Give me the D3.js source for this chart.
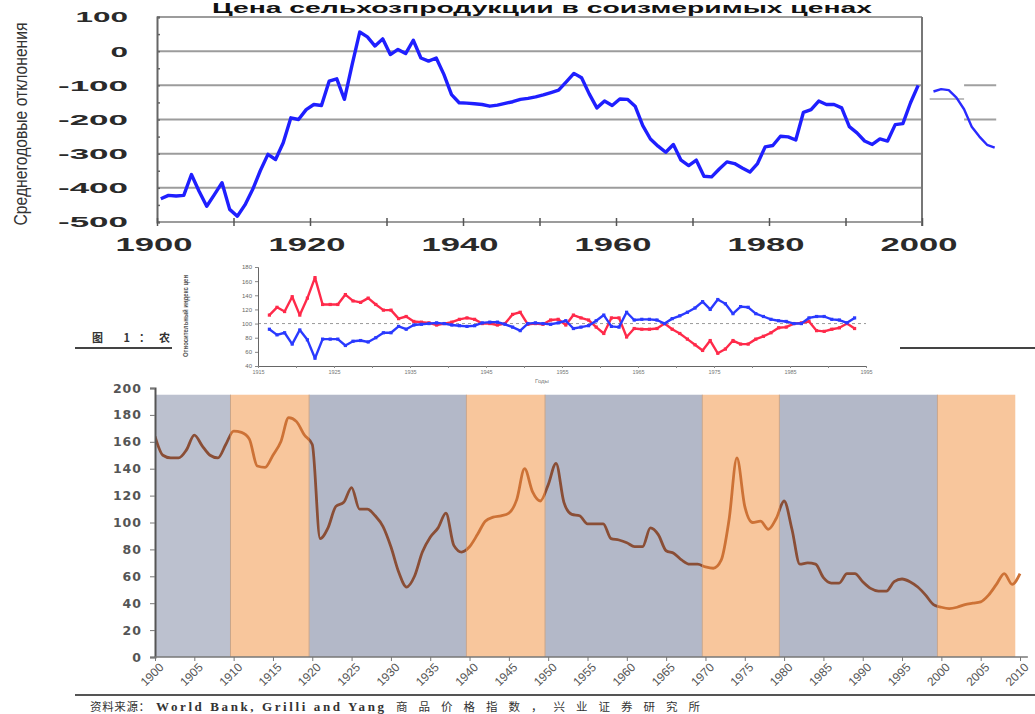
<!DOCTYPE html>
<html><head><meta charset="utf-8">
<script src="https://cdn.jsdelivr.net/npm/d3@7/dist/d3.min.js"></script>
<style>body{margin:0;background:#fff;}svg{display:block;}</style>
</head><body>
<svg id="c" width="1035" height="714"></svg>
<script>
// ===== Chart 1 (top): agricultural prices, deviation =====
const topTitle = "Цена сельхозпродукции в соизмеримых ценах";
const topYLabel = "Среднегодовые отклонения";
const topStart = 1900;
const topValues = [-432,-422,-424,-422,-361,-410,-454,-420,-385,-463,
  -483,-450,-405,-350,-302,-317,-268,-195,-200,-171,
  -156,-159,-88,-81,-141,-40,56,42,15,36,
  -10,5,-7,32,-20,-29,-20,-68,-127,-151,
  -152,-154,-156,-161,-158,-153,-148,-141,-138,-134,
  -128,-121,-114,-90,-65,-78,-125,-166,-146,-159,
  -140,-141,-161,-218,-257,-278,-296,-273,-319,-335,
  -319,-366,-368,-345,-324,-329,-342,-354,-329,-280,
  -276,-249,-251,-260,-179,-171,-146,-156,-156,-166,
  -221,-239,-263,-273,-257,-263,-215,-212,-151,-100];
const contStart = 2001;
const contValues = [-118,-111,-114,-136,-170,-221,-250,-274,-282];
const topYTicks = [100,0,-100,-200,-300,-400,-500];
const topXTicks = [1900,1920,1940,1960,1980,2000];

// ===== Chart 2 (middle): relative price indices =====
const midStart = 1917;
const midRed = [112,123,117,138,112,136,165,127,127,127,
  141,132,130,136,127,119,119,107,110,103,
  102,101,98,100,102,106,108,106,100,100,
  98,100,113,116,99,100,99,105,106,98,
  112,108,105,95,86,108,108,81,93,92,
  92,93,100,92,86,78,70,62,76,58,
  64,76,71,71,78,82,87,94,95,100,
  101,103,90,89,92,94,100,93];
const midBlue = [92,84,87,71,91,77,51,78,78,78,
  69,75,76,74,80,87,87,96,92,98,
  99,100,101,100,98,97,96,97,101,102,
  102,99,95,90,100,101,100,99,101,104,
  93,95,97,104,112,96,95,116,105,106,
  106,105,100,107,111,116,122,131,120,134,
  128,114,124,123,114,110,106,104,103,100,
  100,108,110,110,106,105,101,108];
const midYTicks = [180,160,140,120,100,80,60,40];
const midXTicks = [1915,1925,1935,1945,1955,1965,1975,1985,1995];
const midYLabel = "Относительный индекс цен";
const midXLabel = "Годы";

// ===== Chart 3 (bottom): commodity price index =====
const botStart = 1900;
const botValues = [164,150,148,148,154,165,157,150,148,158,
  168,167,162,142,141,150,160,178,175,165,
  158,88,96,112,115,126,110,110,105,97,
  82,63,52,60,78,89,96,107,83,78,
  82,91,101,104,105,107,117,140,123,116,
  128,144,115,106,105,99,99,99,88,87,
  85,82,82,96,91,79,77,72,69,69,
  67,66,72,102,148,112,100,101,95,103,
  116,95,69,70,69,59,55,55,62,62,
  56,51,49,49,56,58,56,52,46,39,
  37,36,37,39,40,41,46,54,62,54,62];
const botBands = [
  {from:1900, to:1909.6, kind:"down"},
  {from:1909.6, to:1919.6, kind:"up"},
  {from:1919.6, to:1939.6, kind:"down"},
  {from:1939.6, to:1949.6, kind:"up"},
  {from:1949.6, to:1969.6, kind:"down"},
  {from:1969.6, to:1979.4, kind:"up"},
  {from:1979.4, to:1999.5, kind:"down"},
  {from:1999.5, to:2009.4, kind:"up"}];
const botYTicks = [0,20,40,60,80,100,120,140,160,180,200];
const botXTicks = [1900,1905,1910,1915,1920,1925,1930,1935,1940,1945,1950,1955,1960,1965,1970,1975,1980,1985,1990,1995,2000,2005,2010];
const figLabel = "图 1：农";
const sourceCn1 = "资料来源：";
const sourceEn = "World Bank, Grilli and Yang";
const sourceCn2 = "商品价格指数，兴业证券研究所";

const svg = d3.select("#c");
svg.append("rect").attr("width",1035).attr("height",714).attr("fill","#fff");

// ---------- TOP ----------
const xT = d3.scaleLinear().domain([1900,2000]).range([157,922]);
const yT = d3.scaleLinear().domain([-500,100]).range([222,17]);
const gT = svg.append("g");
gT.selectAll("line.grid").data(topYTicks).join("line")
  .attr("x1",xT(1900)).attr("x2",xT(2000))
  .attr("y1",d=>yT(d)).attr("y2",d=>yT(d))
  .attr("stroke","#9c9c9c").attr("stroke-width",2);
const frag = [{v:-100,a:2005.5,b:2009.7},{v:-140,a:2001,b:2005.5},{v:-200,a:2005.5,b:2009.7}];
gT.selectAll("line.frag").data(frag).join("line")
  .attr("x1",d=>xT(d.a)).attr("x2",d=>xT(d.b))
  .attr("y1",d=>yT(d.v)).attr("y2",d=>yT(d.v))
  .attr("stroke",d=>d.v===-140?"#bdbdbd":"#a0a0a0").attr("stroke-width",2);
const yAxT = d3.axisRight(yT).tickValues(d3.range(-500,101,50)).tickSize(3).tickFormat("");
gT.append("g").attr("transform",`translate(${xT(1900)},0)`).call(yAxT)
  .call(g=>g.select(".domain").attr("stroke","#666").attr("stroke-width",2))
  .call(g=>g.selectAll(".tick line").attr("stroke","#666").attr("stroke-width",1.5));
gT.append("line").attr("x1",xT(2000)).attr("x2",xT(2000)).attr("y1",yT(100)).attr("y2",yT(-500)+4)
  .attr("stroke","#777").attr("stroke-width",2);
const xAxT = d3.axisBottom(xT).tickValues(d3.range(1900,2001,10)).tickSize(8).tickFormat("");
gT.append("g").attr("transform",`translate(0,${yT(-500)-4})`).call(xAxT)
  .call(g=>g.select(".domain").remove())
  .call(g=>g.selectAll(".tick line").attr("stroke","#555").attr("stroke-width",1.5));
gT.selectAll("text.yl").data(topYTicks).join("text")
  .attr("x",128).attr("y",d=>yT(d)).attr("dy","0.36em")
  .attr("text-anchor","end").attr("font-family","Liberation Sans, Arial, sans-serif")
  .attr("font-weight","bold").attr("font-size",15).attr("fill","#2a2a2a")
  .attr("textLength",d=>String(d).length*17.5).attr("lengthAdjust","spacingAndGlyphs")
  .text(d=>d);
gT.selectAll("text.xl").data(topXTicks).join("text")
  .attr("x",d=>xT(d)-3).attr("y",251)
  .attr("text-anchor","middle").attr("font-family","Liberation Sans, Arial, sans-serif")
  .attr("font-weight","bold").attr("font-size",19).attr("fill","#2a2a2a")
  .attr("textLength",77).attr("lengthAdjust","spacingAndGlyphs")
  .text(d=>d);
gT.append("text").attr("transform","translate(27,124) rotate(-90) scale(1,1.2)")
  .attr("text-anchor","middle").attr("font-family","Liberation Sans, Arial, sans-serif")
  .attr("font-size",16).attr("fill","#333")
  .attr("textLength",203).attr("lengthAdjust","spacingAndGlyphs").text(topYLabel);
gT.append("text").attr("x",542).attr("y",13)
  .attr("text-anchor","middle").attr("font-family","Liberation Sans, Arial, sans-serif")
  .attr("font-weight","bold").attr("font-size",14).attr("fill","#111")
  .attr("textLength",660).attr("lengthAdjust","spacingAndGlyphs").text(topTitle);
const lineT = d3.line().x(d=>xT(d.year+0.5)).y(d=>yT(d.v)).curve(d3.curveLinear);
const topData = topValues.map((v,i)=>({year:topStart+i,v}));
const contData = contValues.map((v,i)=>({year:contStart+i,v}));
gT.append("path").datum(topData).attr("d",lineT).attr("fill","none")
  .attr("stroke","#1f1fff").attr("stroke-width",3.4).attr("stroke-linejoin","round");
gT.append("path").datum(contData).attr("d",lineT).attr("fill","none")
  .attr("stroke","#2a2aff").attr("stroke-width",2.4).attr("stroke-linejoin","round");

// ---------- MIDDLE ----------
const xM = d3.scaleLinear().domain([1915.5,1995.5]).range([258,866]);
const yM = d3.scaleLinear().domain([40,180]).range([366,267]);
const gM = svg.append("g");
gM.append("line").attr("x1",xM(1915.5)).attr("x2",xM(1995.5)).attr("y1",yM(100)).attr("y2",yM(100))
  .attr("stroke","#999").attr("stroke-width",1).attr("stroke-dasharray","3,3");
gM.append("g").attr("transform",`translate(${xM(1915.5)},0)`)
  .call(d3.axisLeft(yM).tickValues(midYTicks).tickSize(3).tickFormat(d=>d))
  .call(g=>g.select(".domain").attr("stroke","#666"))
  .call(g=>g.selectAll(".tick line").attr("stroke","#888"))
  .call(g=>g.selectAll(".tick text").attr("font-size",6).attr("fill","#666").attr("font-family","Liberation Sans, sans-serif").attr("x",-6));
gM.append("g").attr("transform",`translate(0,${yM(40)})`)
  .call(d3.axisBottom(xM).tickValues(d3.range(1915.5,1996,5)).tickSize(2)
    .tickFormat(d=>{const y=Math.floor(d); return midXTicks.includes(y)?y:"";}))
  .call(g=>g.select(".domain").attr("stroke","#666"))
  .call(g=>g.selectAll(".tick line").attr("stroke","#888"))
  .call(g=>g.selectAll(".tick text").attr("font-size",5.5).attr("fill","#777").attr("font-family","Liberation Sans, sans-serif").attr("y",4));
gM.append("text").attr("transform","translate(188,316) rotate(-90)")
  .attr("text-anchor","middle").attr("font-size",6.5).attr("font-weight","bold")
  .attr("fill","#555").attr("font-family","Liberation Sans Narrow, Liberation Sans, sans-serif")
  .attr("textLength",82).attr("lengthAdjust","spacingAndGlyphs").text(midYLabel);
gM.append("text").attr("x",542).attr("y",383).attr("text-anchor","middle")
  .attr("font-size",6).attr("fill","#777").attr("font-family","Liberation Sans, sans-serif").text(midXLabel);
const lineM = d3.line().x((d,i)=>xM(midStart+i)).y(d=>yM(d));
[[midRed,"#ff2a4a"],[midBlue,"#2a3aff"]].forEach(([arr,col])=>{
  gM.append("path").datum(arr).attr("d",lineM).attr("fill","none")
    .attr("stroke",col).attr("stroke-width",2.4).attr("stroke-linejoin","round");
  gM.selectAll(null).data(arr).join("rect")
    .attr("x",(d,i)=>xM(midStart+i)-1.6).attr("y",d=>yM(d)-1.6)
    .attr("width",3.2).attr("height",3.2).attr("fill",col);
});
svg.append("text").attr("x",92).attr("y",342).attr("font-family","Noto Sans CJK SC, sans-serif")
  .attr("font-weight","bold").attr("font-size",11).attr("fill","#333")
  .attr("textLength",78).attr("lengthAdjust","spacing").text(figLabel);
svg.append("line").attr("x1",75).attr("x2",172).attr("y1",348).attr("y2",348).attr("stroke","#444").attr("stroke-width",2);
svg.append("line").attr("x1",900).attr("x2",1035).attr("y1",348).attr("y2",348).attr("stroke","#444").attr("stroke-width",2);

// ---------- BOTTOM ----------
const xB = d3.scaleLinear().domain([1900,2010]).range([155,1020]);
const yB = d3.scaleLinear().domain([0,200]).range([657,388]);
const gB = svg.append("g");
const bandTop = 195;
const bandCol = {down:"#b3b8c8", up:"#f8c69c"};
gB.selectAll("rect.band").data(botBands).join("rect")
  .attr("x",d=>xB(d.from)).attr("width",d=>xB(d.to)-xB(d.from))
  .attr("y",yB(bandTop)).attr("height",yB(0)-yB(bandTop))
  .attr("fill",(d,i)=>i===0?"#bcc1cf":bandCol[d.kind]);
gB.selectAll("line.bsep").data(botBands.slice(1)).join("line")
  .attr("x1",d=>xB(d.from)).attr("x2",d=>xB(d.from)).attr("y1",yB(bandTop)).attr("y2",yB(0))
  .attr("stroke","#c9a58a").attr("stroke-width",1);
const defs = svg.append("defs");
["down","up"].forEach(k=>{
  const cp = defs.append("clipPath").attr("id","clip-"+k);
  cp.selectAll("rect").data(botBands.filter(b=>b.kind===k)).join("rect")
    .attr("x",d=>xB(d.from)).attr("width",d=>xB(d.to)-xB(d.from)).attr("y",0).attr("height",714);
});
defs.select("#clip-up").append("rect").attr("x",xB(2009.4)).attr("width",40).attr("y",0).attr("height",714);
const botData = botValues.map((v,i)=>({year:botStart+i,v}));
const lineB = d3.line().x(d=>xB(d.year)).y(d=>yB(d.v)).curve(d3.curveMonotoneX);
gB.append("path").datum(botData).attr("d",lineB).attr("fill","none")
  .attr("stroke","#8a4e36").attr("stroke-width",2.8).attr("clip-path","url(#clip-down)");
gB.append("path").datum(botData).attr("d",lineB).attr("fill","none")
  .attr("stroke","#cd7236").attr("stroke-width",2.8).attr("clip-path","url(#clip-up)");
gB.append("g").attr("transform",`translate(${xB(1900)},0)`)
  .call(d3.axisLeft(yB).tickValues(botYTicks).tickSize(5).tickPadding(8))
  .call(g=>g.select(".domain").attr("stroke","#555").attr("stroke-width",2))
  .call(g=>g.selectAll(".tick line").attr("stroke","#777"))
  .call(g=>g.selectAll(".tick text").attr("font-size",12.5).attr("fill","#555")
    .attr("font-weight","bold").attr("font-family","DejaVu Sans, sans-serif").attr("letter-spacing",1));
gB.append("g").attr("transform",`translate(0,${yB(0)})`)
  .call(d3.axisBottom(xB).tickValues(botXTicks).tickSize(4).tickFormat(d=>d))
  .call(g=>g.select(".domain").attr("stroke","#777").attr("stroke-width",1.5).attr("d",`M${xB(1900)},0H${xB(2011)}`))
  .call(g=>g.selectAll(".tick line").attr("stroke","#777"))
  .call(g=>g.selectAll(".tick text").attr("font-size",12).attr("fill","#555")
    .attr("font-family","Liberation Sans, sans-serif").attr("text-anchor","end")
    .attr("transform","translate(6,8) rotate(-45)").attr("y",0).attr("dy","0.35em"));
svg.append("line").attr("x1",75).attr("x2",1035).attr("y1",695).attr("y2",695).attr("stroke","#555").attr("stroke-width",2);
// source note
svg.append("text").attr("x",90).attr("y",711).attr("font-size",11.5).attr("fill","#333")
  .attr("font-family","Noto Sans CJK SC, sans-serif")
  .attr("textLength",60).attr("lengthAdjust","spacing").text(sourceCn1);
svg.append("text").attr("x",156).attr("y",711).attr("font-size",13).attr("fill","#333")
  .attr("font-family","Liberation Serif, serif").attr("font-weight","bold")
  .attr("textLength",228).attr("lengthAdjust","spacing").text(sourceEn);
svg.append("text").attr("x",396).attr("y",711).attr("font-size",11.5).attr("fill","#333")
  .attr("font-family","Noto Sans CJK SC, sans-serif")
  .attr("textLength",304).attr("lengthAdjust","spacing").text(sourceCn2);
</script>
</body></html>
